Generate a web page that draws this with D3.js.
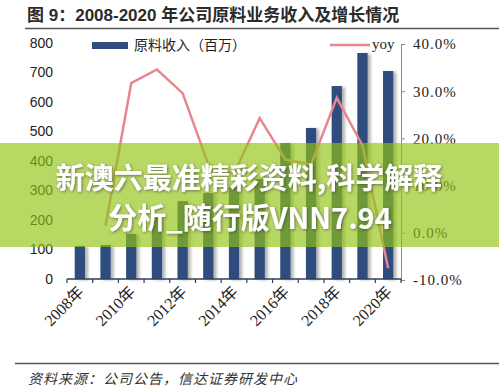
<!DOCTYPE html>
<html>
<head>
<meta charset="utf-8">
<script src="https://cdn.jsdelivr.net/npm/d3@7"></script>
<style>
  body { margin: 0; background: #fff; }
  svg { display: block; }
</style>
</head>
<body>
<div id="chart"></div>
<script>
// data
var years = ["2008", "2009", "2010", "2011", "2012", "2013", "2014", "2015", "2016", "2017", "2018", "2019", "2020"];
var revenue = [112, 115, 153, 207, 264, 291, 312, 339, 461, 512, 654, 766, 705];
var yoyYears = ["2009", "2010", "2011", "2012", "2013", "2014", "2015", "2016", "2017", "2018", "2019", "2020"];
var yoy = [1.5, 31.7, 34.6, 29.6, 14.5, 12.5, 24.3, 15.5, 14.5, 28.6, 18.5, -7.5];
var leftTicks = [0, 100, 200, 300, 400, 500, 600, 700, 800];
var rightTicks = [-10, 0, 10, 20, 30, 40];
var xLabelYears = ["2008", "2010", "2012", "2014", "2016", "2018", "2020"];

var svgWidth = 499;
var svgHeight = 392;

var plot = { left: 67, right: 401, top: 43, bottom: 279 };

var svg = d3.select("#chart")
  .append("svg")
  .attr("width", svgWidth)
  .attr("height", svgHeight);

var defs = svg.append("defs");

// soft shadow behind the bars
var shadow = defs.append("filter")
  .attr("id", "barShadow")
  .attr("x", "-50%").attr("y", "-10%")
  .attr("width", "200%").attr("height", "120%");
shadow.append("feDropShadow")
  .attr("dx", 3).attr("dy", 1)
  .attr("stdDeviation", 1.8)
  .attr("flood-color", "#000")
  .attr("flood-opacity", 0.3);

var textShadow = defs.append("filter")
  .attr("id", "textShadow")
  .attr("x", "-10%").attr("y", "-30%")
  .attr("width", "120%").attr("height", "160%");
textShadow.append("feDropShadow")
  .attr("dx", 1).attr("dy", 1)
  .attr("stdDeviation", 1.5)
  .attr("flood-color", "#333")
  .attr("flood-opacity", 0.6);

// title
svg.append("text")
  .attr("x", 27)
  .attr("y", 21)
  .attr("font-family", "Liberation Sans, Noto Sans CJK SC, sans-serif")
  .attr("font-size", "17px")
  .attr("font-weight", "bold")
  .attr("fill", "#2b2b2b")
  .text("图 9：2008-2020 年公司原料业务收入及增长情况");

svg.append("line")
  .attr("x1", 25).attr("x2", 499)
  .attr("y1", 28.5).attr("y2", 28.5)
  .attr("stroke", "#555")
  .attr("stroke-width", 1.5);

// scales
var xScale = d3.scaleBand()
  .domain(years)
  .range([plot.left, plot.right])
  .paddingInner(0.6)
  .paddingOuter(0.3);

var yLeft = d3.scaleLinear()
  .domain([0, 800])
  .range([plot.bottom, plot.top]);

var yRight = d3.scaleLinear()
  .domain([-10, 40])
  .range([plot.bottom + 1, plot.top + 1]);

// left axis (labels only)
var leftAxis = svg.append("g")
  .attr("transform", `translate(${plot.left}, 0)`)
  .call(d3.axisLeft(yLeft).tickValues(leftTicks).tickSize(0).tickPadding(14));
leftAxis.select(".domain").remove();
leftAxis.selectAll("text")
  .attr("font-family", "Liberation Sans, Arial, sans-serif")
  .attr("font-size", "14px")
  .attr("fill", "#222");

// right axis
var rightAxis = svg.append("g")
  .attr("transform", `translate(${plot.right}, 0)`)
  .call(d3.axisRight(yRight).tickValues(rightTicks).tickSize(4).tickSizeOuter(0).tickPadding(8)
    .tickFormat(d => d.toFixed(1) + "%"));
rightAxis.select(".domain").attr("stroke", "#8a8a8a");
rightAxis.selectAll(".tick line").attr("stroke", "#8a8a8a");
rightAxis.selectAll("text")
  .attr("font-family", "Liberation Serif, Times New Roman, serif")
  .attr("font-size", "15px")
  .attr("letter-spacing", "1px")
  .attr("fill", "#222");

// bars
svg.append("g")
  .attr("filter", "url(#barShadow)")
  .selectAll("rect")
  .data(years)
  .enter()
  .append("rect")
  .attr("x", d => xScale(d))
  .attr("width", xScale.bandwidth())
  .attr("y", (d, i) => yLeft(revenue[i]))
  .attr("height", (d, i) => yLeft(0) - yLeft(revenue[i]))
  .attr("fill", "#2f4d7e");

// bottom axis with ticks between bars
var step = xScale.step();
var bottomAxis = svg.append("g");
bottomAxis.append("line")
  .attr("x1", plot.left).attr("x2", plot.right)
  .attr("y1", plot.bottom).attr("y2", plot.bottom)
  .attr("stroke", "#2d3f5c")
  .attr("stroke-width", 1.5);
bottomAxis.selectAll(".btick")
  .data(years.concat(["end"]))
  .enter()
  .append("line")
  .attr("class", "btick")
  .attr("x1", (d, i) => plot.left + i * step)
  .attr("x2", (d, i) => plot.left + i * step)
  .attr("y1", plot.bottom)
  .attr("y2", plot.bottom + 4)
  .attr("stroke", "#2d3f5c")
  .attr("stroke-width", 1.2);

// rotated year labels
svg.append("g")
  .selectAll("text")
  .data(xLabelYears)
  .enter()
  .append("text")
  .attr("transform", d => `translate(${xScale(d) + xScale.bandwidth() / 2 + 5}, ${plot.bottom + 14}) rotate(-45)`)
  .attr("text-anchor", "end")
  .attr("font-family", "Liberation Serif, Noto Sans CJK SC, serif")
  .attr("font-size", "16px")
  .attr("fill", "#222")
  .text(d => d + "年");

// yoy line
var line = d3.line()
  .x(d => xScale(d) + xScale.bandwidth() / 2)
  .y((d, i) => yRight(yoy[i]));

svg.append("path")
  .datum(yoyYears)
  .attr("d", line)
  .attr("fill", "none")
  .attr("stroke", "#e8868f")
  .attr("stroke-width", 2.5);

// legend
svg.append("rect")
  .attr("x", 92).attr("y", 42)
  .attr("width", 36).attr("height", 7)
  .attr("fill", "#2f4d7e");
svg.append("text")
  .attr("x", 134).attr("y", 50)
  .attr("font-family", "Noto Sans CJK SC, sans-serif")
  .attr("font-size", "14px")
  .attr("fill", "#222")
  .text("原料收入（百万）");

svg.append("line")
  .attr("x1", 330).attr("x2", 370)
  .attr("y1", 45).attr("y2", 45)
  .attr("stroke", "#e8868f")
  .attr("stroke-width", 2.5);
svg.append("text")
  .attr("x", 372).attr("y", 49)
  .attr("font-family", "Liberation Serif, serif")
  .attr("font-size", "15px")
  .attr("fill", "#222")
  .text("yoy");

// source note
svg.append("line")
  .attr("x1", 15).attr("x2", 499)
  .attr("y1", 363.5).attr("y2", 363.5)
  .attr("stroke", "#555")
  .attr("stroke-width", 1.5);
svg.append("text")
  .attr("x", 28).attr("y", 384)
  .attr("font-family", "Noto Sans CJK SC, sans-serif")
  .attr("font-size", "14px")
  .attr("letter-spacing", "1px")
  .attr("font-style", "italic")
  .attr("fill", "#333")
  .text("资料来源：公司公告，信达证券研发中心");

// green banner over the chart
svg.append("rect")
  .attr("x", 0).attr("y", 143)
  .attr("width", svgWidth).attr("height", 104)
  .attr("fill", "rgb(146,195,17)")
  .attr("opacity", 0.65);

var banner = svg.append("g")
  .attr("filter", "url(#textShadow)")
  .attr("font-family", "Noto Sans CJK SC, sans-serif")
  .attr("font-size", "29px")
  .attr("font-weight", "bold")
  .attr("fill", "#fff")
  .attr("text-anchor", "middle");
banner.append("text")
  .attr("x", 249).attr("y", 189)
  .text("新澳六最准精彩资料,科学解释");
banner.append("text")
  .attr("x", 250).attr("y", 229)
  .text("分析_随行版VNN7.94");
</script>
</body>
</html>
